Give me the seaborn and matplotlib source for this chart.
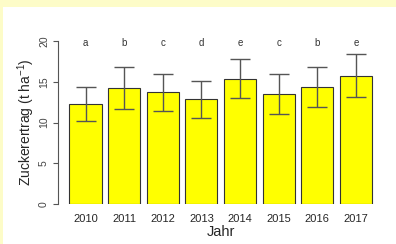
import numpy as np
import pandas as pd
import matplotlib
matplotlib.use("Agg")
import matplotlib.pyplot as plt
import seaborn as sns

# values
years = ["2010", "2011", "2012", "2013", "2014", "2015", "2016", "2017"]
ertrag = [12.3, 14.2, 13.7, 12.9, 15.3, 13.5, 14.3, 15.7]
err_upper = [14.4, 16.8, 16.0, 15.1, 17.8, 16.0, 16.8, 18.4]
err_lower = [10.2, 11.6, 11.4, 10.6, 13.0, 11.0, 11.9, 13.1]
letters = ["a", "b", "c", "d", "e", "c", "b", "e"]
y_ticks = [0, 5, 10, 15, 20]

df = pd.DataFrame({"Jahr": years, "Ertrag": ertrag})

sns.set_style("ticks")
plt.rcParams['font.family'] = ['Liberation Sans', 'DejaVu Sans']
plt.rcParams['mathtext.fontset'] = 'custom'
plt.rcParams['mathtext.rm'] = 'Liberation Sans'
plt.rcParams['mathtext.default'] = 'regular'

fig = plt.figure(figsize=(3.96, 2.44), dpi=100, facecolor="#fdfcc8")
# white panel with the light yellow band at top and left
fig.patches.append(plt.Rectangle((3/396, 0), 1, 237/244, transform=fig.transFigure,
                                 facecolor="white", edgecolor="none", zorder=-10))
ax = fig.add_axes([58/396, 40/244, 325.5/396, 163/244])
ax.set_facecolor("none")

sns.barplot(data=df, x="Jahr", y="Ertrag", color="#ffff00", edgecolor="#333333",
            linewidth=0.8, width=0.83, saturation=1, errorbar=None, ax=ax)

pos = np.arange(len(years))
mean = np.array(ertrag)
yerr = [mean - np.array(err_lower), np.array(err_upper) - mean]
ax.errorbar(pos, mean, yerr=yerr, fmt="none", ecolor="#555555", elinewidth=1.0,
            capsize=7.5, capthick=1.0, zorder=3)

for x, lab in zip(pos, letters):
    ax.text(x, 19.8, lab, ha="center", va="center", fontsize=7, color="#333333")

ax.set_xlim(-0.712, 7.712)
ax.set_ylim(0, 20)
ax.set_yticks(y_ticks)
ax.set_yticklabels([str(t) for t in y_ticks], rotation=90, va="center",
                   fontsize=7.5, color="#444444")
ax.tick_params(axis="y", length=3.5, width=0.8, color="#555555", pad=3)
ax.tick_params(axis="x", length=0, labelsize=8, pad=7)

for s in ["top", "right", "bottom"]:
    ax.spines[s].set_visible(False)
ax.spines["left"].set_color("#555555")
ax.spines["left"].set_linewidth(0.8)

ax.set_xlabel("Jahr", fontsize=10.5, labelpad=1)
ax.set_ylabel("Zuckerertrag (t ha$^{-1}$)", fontsize=10, labelpad=1.5)

fig.savefig("out.png", dpi=100, facecolor=fig.get_facecolor())
